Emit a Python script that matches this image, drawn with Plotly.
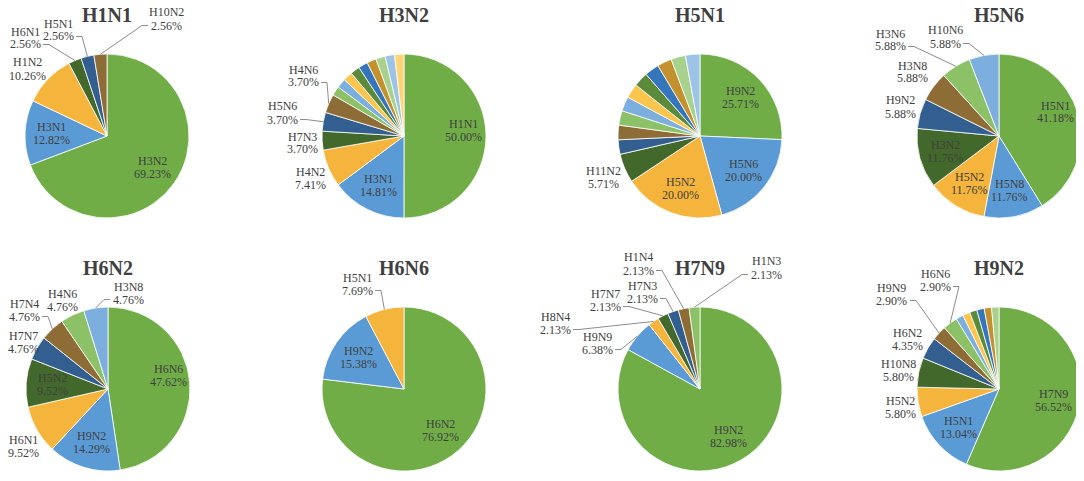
import math
import plotly.graph_objects as go

# subtype composition per panel (percent of co-infections), clockwise from 12 o'clock
titles = ["H1N1", "H3N2", "H5N1", "H5N6", "H6N2", "H6N6", "H7N9", "H9N2"]

h1n1_labels = ["H3N2", "H3N1", "H1N2", "H6N1", "H5N1", "H10N2"]
h1n1_values = [69.23, 12.82, 10.26, 2.56, 2.56, 2.56]

h3n2_labels = ["H1N1", "H3N1", "H4N2", "H7N3", "H5N6", "H4N6",
               "o1", "o2", "o3", "o4", "o5", "o6", "o7", "o8", "o9"]
h3n2_values = [50.00, 14.81, 7.41, 3.70, 3.70, 3.70,
               1.85, 1.85, 1.85, 1.85, 1.85, 1.85, 1.85, 1.85, 1.85]

h5n1_labels = ["H9N2", "H5N6", "H5N2", "H11N2",
               "o1", "o2", "o3", "o4", "o5", "o6", "o7", "o8", "o9", "o10"]
h5n1_values = [25.71, 20.00, 20.00, 5.71,
               2.86, 2.86, 2.86, 2.86, 2.86, 2.86, 2.86, 2.86, 2.86, 2.86]

h5n6_labels = ["H5N1", "H5N8", "H5N2", "H3N2", "H9N2", "H3N8", "H3N6", "H10N6"]
h5n6_values = [41.18, 11.76, 11.76, 11.76, 5.88, 5.88, 5.88, 5.88]

h6n2_labels = ["H6N6", "H9N2", "H6N1", "H5N2", "H7N7", "H7N4", "H4N6", "H3N8"]
h6n2_values = [47.62, 14.29, 9.52, 9.52, 4.76, 4.76, 4.76, 4.76]

h6n6_labels = ["H6N2", "H9N2", "H5N1"]
h6n6_values = [76.92, 15.38, 7.69]

h7n9_labels = ["H9N2", "H9N9", "H8N4", "H7N7", "H7N3", "H1N4", "H1N3"]
h7n9_values = [82.98, 6.38, 2.13, 2.13, 2.13, 2.13, 2.13]

h9n2_labels = ["H7N9", "H5N1", "H5N2", "H10N8", "H6N2", "H9N9", "H6N6",
               "o1", "o2", "o3", "o4", "o5", "o6"]
h9n2_values = [56.52, 13.04, 5.80, 5.80, 4.35, 2.90, 2.90,
               1.45, 1.45, 1.45, 1.45, 1.45, 1.45]

all_labels = [h1n1_labels, h3n2_labels, h5n1_labels, h5n6_labels,
              h6n2_labels, h6n6_labels, h7n9_labels, h9n2_labels]
all_values = [h1n1_values, h3n2_values, h5n1_values, h5n6_values,
              h6n2_values, h6n6_values, h7n9_values, h9n2_values]

palette = ["#70AD47", "#5B9BD5", "#F5B43B", "#43682B", "#325F8F", "#8E6C35",
           "#8CC168", "#7CAFDD", "#FBC64E", "#5A8A3A", "#3575BB", "#C3922E",
           "#A9D18E", "#9DC3E6", "#FDD577"]

# layout in screen px (page has an 8px body margin around the figure)
W, H = 1084, 481
OFF = 8
R = 82
centres = [(107, 136), (404, 136), (700, 136), (999, 136),
           (108, 389), (404, 389), (700, 389), (999, 389)]
title_y = [15, 15, 15, 15, 268, 268, 268, 268]
LINE = 6.5  # half line spacing of two-line labels


def px(x, y):
    return (x - OFF) / W, 1 - (y - OFF) / H


# outside label placement: label -> (dx, dy from pie centre, leader line?)
outside = [
    {"H1N2": (-80, -67, False), "H6N1": (-82, -98, True),
     "H5N1": (-49, -106, True), "H10N2": (59, -117, True)},
    {"H4N2": (-94, 42, False), "H7N3": (-102, 7, False),
     "H5N6": (-122, -23, True), "H4N6": (-101, -60, True)},
    {"H11N2": (-97, 41, False)},
    {"H9N2": (-99, -29, False), "H3N8": (-87, -64, False),
     "H3N6": (-109, -96, True), "H10N6": (-54, -99, True)},
    {"H6N1": (-85, 57, False), "H7N7": (-85, -47, False),
     "H7N4": (-84, -79, True), "H4N6": (-46, -89, False),
     "H3N8": (20, -96, True)},
    {"H5N1": (-47, -105, True)},
    {"H9N9": (-103, -46, True), "H8N4": (-145, -66, True),
     "H7N7": (-95, -89, True), "H7N3": (-58, -97, True),
     "H1N4": (-62, -125, True), "H1N3": (66, -121, True)},
    {"H5N2": (-99, 18, False), "H10N8": (-101, -19, False),
     "H6N2": (-92, -50, False), "H9N9": (-107, -95, True),
     "H6N6": (-64, -109, True)},
]
# a few inside labels sit off the default 0.68 r spot
inside_pos = {1: {"H1N1": (59, -6)}, 3: {"H5N1": (56, -24)}, 4: {"H6N6": (60, -14)}}

label_font = dict(family="Liberation Serif", size=12, color="#404040")

fig = go.Figure()
annotations = []
shapes = []


def add_text(txt, x, y, font):
    annotations.append(dict(text=txt, x=x, y=y, xref="paper", yref="paper",
                            xanchor="center", yanchor="middle",
                            showarrow=False, font=font))


def add_label(name, pct, bx, by):
    add_text(name, *px(bx, by - LINE), label_font)
    add_text(pct, *px(bx, by + LINE), label_font)


for i, (labels, values) in enumerate(zip(all_labels, all_values)):
    cx, cy = centres[i]
    x0, y1 = px(cx - R, cy - R)
    x1, y0 = px(cx + R, cy + R)
    fig.add_trace(go.Pie(
        labels=labels,
        values=values,
        sort=False,
        direction="clockwise",
        rotation=0,
        textinfo="none",
        hoverinfo="label+percent",
        showlegend=False,
        marker=dict(colors=palette[:len(labels)],
                    line=dict(color="white", width=0.8)),
        domain=dict(x=[x0, x1], y=[y0, y1]),
    ))

    add_text("<b>%s</b>" % titles[i], *px(cx, title_y[i]),
             dict(family="Liberation Serif", size=20, color="#404040"))

    total = sum(values)
    cum = 0.0
    for lab, v in zip(labels, values):
        theta = 2 * math.pi * (cum + v / 2) / total
        cum += v
        if lab.startswith("o"):
            continue
        pct = "%.2f%%" % v
        sx, sy = math.sin(theta), -math.cos(theta)
        if lab in outside[i]:
            dx, dy, leader = outside[i][lab]
            bx, by = cx + dx, cy + dy
            add_label(lab, pct, bx, by)
            if leader:
                tipx, tipy = cx + R * sx, cy + R * sy
                side = 1 if tipx > bx else -1
                lx = bx + side * (len(pct) * 3 + 3)
                ly = by + LINE
                p = [px(lx, ly), px(lx + side * 6, ly), px(tipx, tipy)]
                path = "M %f,%f L %f,%f L %f,%f" % (p[0] + p[1] + p[2])
                shapes.append(dict(type="path", path=path, xref="paper", yref="paper",
                                   line=dict(color="#8C8C8C", width=1)))
        else:
            if lab in inside_pos.get(i, {}):
                dx, dy = inside_pos[i][lab]
            else:
                dx, dy = 0.68 * R * sx, 0.68 * R * sy
            add_label(lab, pct, cx + dx, cy + dy)

fig.update_layout(
    width=W, height=H,
    margin=dict(l=0, r=0, t=0, b=0),
    paper_bgcolor="white",
    annotations=annotations,
    shapes=shapes,
)

fig.write_html("out.html")
